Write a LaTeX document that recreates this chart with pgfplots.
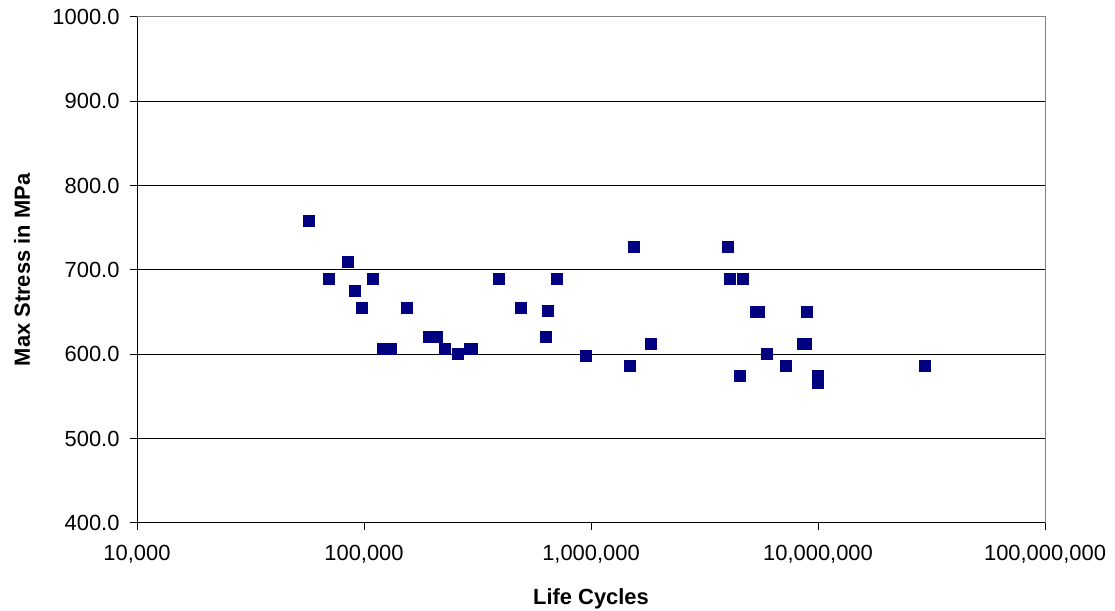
\documentclass[border=0pt]{standalone}
\usepackage{pgfplots}
\pgfplotsset{compat=1.18}
\usepackage{fontspec}
\setmainfont{Liberation Sans}
\definecolor{navy}{HTML}{000080}
\definecolor{bordergray}{HTML}{808080}
\begin{document}
\begin{tikzpicture}
\begin{axis}[
  scale only axis,
  width=908bp, height=506bp,
  xmode=log,
  xmin=1e4, xmax=1e8,
  ymin=400, ymax=1000,
  xtick={1e4,1e5,1e6,1e7,1e8},
  xticklabels={{10,000},{100,000},{1,000,000},{10,000,000},{100,000,000}},
  ytick={400,500,...,1000},
  xminorticks=false, yminorticks=false,
  axis lines*=left,
  axis line style={black, line width=1bp},
  tick align=outside,
  major tick length=7bp,
  tick style={black, line width=1bp},
  ymajorgrids,
  major grid style={black, line width=1bp},
  /pgf/number format/assume math mode=true,
  yticklabel style={/pgf/number format/fixed, /pgf/number format/fixed zerofill, /pgf/number format/precision=1, /pgf/number format/1000 sep={}},
  every tick label/.append style={font=\fontsize{22}{26}\selectfont},
  xticklabel style={yshift=-12bp},
  yticklabel style={xshift=-7bp},
  xlabel={Life Cycles},
  ylabel={Max Stress in MPa},
  label style={font=\fontsize{22}{26}\selectfont\bfseries},
  xlabel style={at={(axis description cs:0.5,0)}, anchor=center, yshift=-76bp},
  ylabel style={at={(axis description cs:0,0.5)}, anchor=center, yshift=115bp},
  clip=false,
]
\draw[bordergray, line width=1bp] (rel axis cs:0,1) -- (rel axis cs:1,1) -- (rel axis cs:1,0);
\addplot[only marks, mark=square*, mark size=5.5bp, mark options={fill=navy, draw=navy}] coordinates {
(57100,758.5)
(69800,690)
(84800,710)
(91300,676)
(97700,655.4)
(109600,690)
(121300,607)
(130800,607)
(153800,655.4)
(192100,621)
(208400,621)
(225900,607)
(257800,600.5)
(292000,607)
(297000,607)
(390600,690)
(489600,655.4)
(641700,651.5)
(628700,621)
(705100,690)
(948700,598.2)
(1543000,728)
(3988000,728)
(4082000,690)
(4656000,690)
(5312000,651)
(5459000,651)
(8878000,651)
(1840000,613)
(8585000,613)
(8815000,613)
(5962000,600.5)
(1482000,586.7)
(7227000,586.7)
(4503000,574.8)
(9955000,574.8)
(9955000,566.9)
(29430000,586.7)
};
\coordinate (sw) at (rel axis cs:0,0);
\coordinate (ne) at (rel axis cs:1,1);
\end{axis}
\pgfresetboundingbox
\path ([shift={(-137bp,-88bp)}]sw) rectangle ([shift={(70bp,17bp)}]ne);
\end{tikzpicture}
\end{document}
